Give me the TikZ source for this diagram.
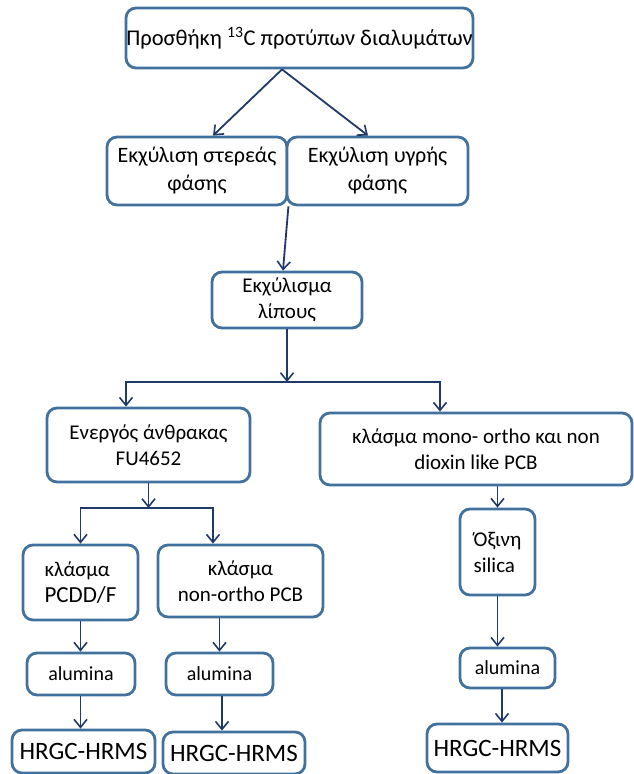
\documentclass[tikz,border=0pt]{standalone}
\usepackage{fontspec}
\setmainfont{Carlito}
\usetikzlibrary{arrows.meta,calc}
\definecolor{boxc}{HTML}{41719C}
\definecolor{arrc}{HTML}{1F3A68}
\begin{document}
\begin{tikzpicture}[x=1pt,y=-1pt,
  box/.style={draw=boxc, line width=2.8pt, rounded corners=10pt, fill=white, inner sep=0pt,
    align=center, font=\fontsize{21}{26}\selectfont, text=black},
  big/.style={font=\fontsize{22}{28}\selectfont},
  alu/.style={font=\fontsize{20}{24}\selectfont},
  hr/.style={font=\fontsize{25}{30}\selectfont},
  arr/.style={draw=arrc, line width=1.8pt, -{Straight Barb[length=8pt,width=13pt,line width=1.6pt]}},
  ln/.style={draw=arrc, line width=1.8pt}]
\useasboundingbox (0,0) rectangle (633,774);

\node[box, font=\fontsize{22.5}{28}\selectfont, minimum width=347pt, minimum height=60pt] (top) at (299.5,38) {Προσθήκη \textsuperscript{13}C προτύπων διαλυμάτων};
\node[box, big, minimum width=180pt, minimum height=68pt] (solid) at (197,171) {Εκχύλιση στερεάς\\φάσης};
\node[box, big, minimum width=181pt, minimum height=68pt] (liquid) at (377.5,171) {Εκχύλιση υγρής\\φάσης};
\node[box, minimum width=150pt, minimum height=56pt] (fat) at (287,300) {Εκχύλισμα\\λίπους};
\node[box, minimum width=203pt, minimum height=74pt] (carbon) at (148.5,445) {Ενεργός άνθρακας\\FU4652};
\node[box, minimum width=312pt, minimum height=72pt] (mono) at (476,449) {κλάσμα mono- ortho και non\\dioxin like PCB};
\node[box, minimum width=115pt, minimum height=75pt, align=left] (pcdd) at (80.5,582.5) {κλάσμα\\{\fontsize{23}{26}\selectfont PCDD/F}};
\node[box, minimum width=165pt, minimum height=72pt] (nonortho) at (240.5,581) {κλάσμα\\non-ortho PCB};
\node[box, minimum width=75pt, minimum height=86pt, align=left] (acid) at (497.5,552) {Όξινη\\silica};
\node[box, alu, minimum width=108pt, minimum height=42pt] (alu1) at (81,674) {alumina};
\node[box, alu, minimum width=107pt, minimum height=42pt] (alu2) at (219.5,674) {alumina};
\node[box, alu, minimum width=95pt, minimum height=40pt] (alu3) at (507.5,668) {alumina};
\node[box, hr, minimum width=143pt, minimum height=43pt] (hr1) at (83.5,751.5) {HRGC-HRMS};
\node[box, hr, minimum width=142pt, minimum height=42pt] (hr2) at (234,753) {HRGC-HRMS};
\node[box, hr, minimum width=141pt, minimum height=48pt] (hr3) at (497.5,748) {HRGC-HRMS};

\coordinate (j1) at (287,382);
\coordinate (j2) at (148.5,508);

\draw[arr] ([xshift=-17.5pt]top.south) -- ([xshift=16pt]solid.north);
\draw[arr] ([xshift=-17.5pt]top.south) -- ([xshift=-9.5pt]liquid.north);
\draw[arr] (solid.south east) -- ([xshift=-4pt]fat.north);
\draw[arr] (fat.south) -- (j1);
\draw[arr] (j1) -| ([xshift=-22.5pt]carbon.north);
\draw[arr] (j1) -| ([xshift=-36pt]mono.north);
\draw[arr] (carbon.south) -- (j2);
\draw[arr] (j2) -| (pcdd.north);
\draw[arr] (j2) -| ([xshift=-27.5pt]nonortho.north);
\draw[arr] (acid.north |- mono.south) -- (acid.north);
\draw[arr] (acid.south) -- (acid.south |- alu3.north);
\draw[arr] ([xshift=-5.5pt]alu3.south) -- ([xshift=-5.5pt]alu3.south |- hr3.north);
\draw[arr] (pcdd.south) -- (pcdd.south |- alu1.north);
\draw[arr] (pcdd.south |- alu1.south) -- (pcdd.south |- hr1.north);
\draw[arr] (alu2.north |- nonortho.south) -- (alu2.north);
\draw[arr] ([xshift=2.5pt]alu2.south) -- ([xshift=2.5pt]alu2.south |- hr2.north);
\end{tikzpicture}
\end{document}
